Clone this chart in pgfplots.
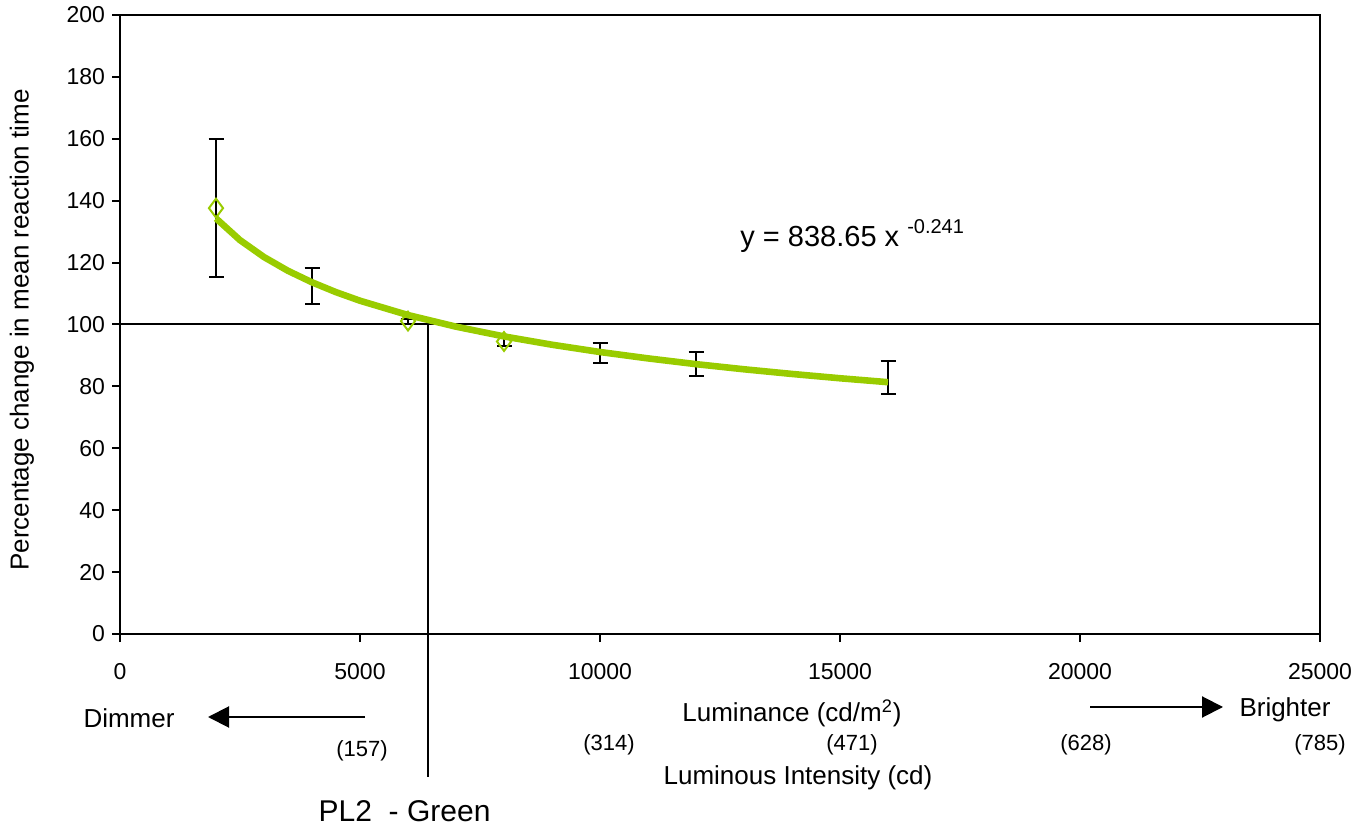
\documentclass[border=0pt]{standalone}
\usepackage{fontspec}
\setmainfont{Liberation Sans}
\usepackage{pgfplots}
\pgfplotsset{compat=1.18}
\usetikzlibrary{arrows.meta}
\definecolor{lime}{RGB}{153,204,0}
\begin{document}
\begin{tikzpicture}
\path[use as bounding box] (-60pt,-97pt) rectangle (619pt,317pt);
\begin{axis}[
  at={(0,0)}, anchor=south west,
  scale only axis, width=600pt, height=309.5pt,
  xmin=0, xmax=25000, ymin=0, ymax=200,
  xtick={0,5000,...,25000}, ytick={0,20,...,200},
  scaled x ticks=false,
  /pgf/number format/1000 sep={},
  /pgf/number format/assume math mode=true,
  tick label style={font=\fontsize{11.5}{13}\selectfont},
  xticklabel style={yshift=-7pt},
  tick align=outside, xtick pos=left, ytick pos=left,
  major tick length=4pt,
  axis line style={line width=1pt},
  every tick/.style={black, line width=1pt},
  clip=false,
]
\addplot[black, line width=1pt] coordinates {(0,100) (25000,100)};
\draw[black, line width=1pt] (axis cs:6420,100) -- (axis cs:6420,-46.2);
% error bars only (markers hidden under the trend line in the original)
\addplot[draw=none, mark=none,
  error bars/.cd, y dir=both, y explicit,
  error bar style={draw=black, line width=1pt},
  error mark options={rotate=90, mark size=3.75pt, draw=black, line width=1pt}]
coordinates {
(4000,112.3) +- (0,5.8)
(10000,90.7) +- (0,3.25)
(12000,87.3) +- (0,3.9)
(16000,82.9) +- (0,5.2)
};
\addplot[only marks, mark=diamond, mark size=4.7pt,
  mark options={draw=lime, fill=none, line width=1pt},
  error bars/.cd, y dir=both, y explicit,
  error bar style={draw=black, line width=1pt},
  error mark options={rotate=90, mark size=3.75pt, draw=black, line width=1pt}]
coordinates {
(2000,137.6) +- (0,22.2)
(6000,101.1) +- (0,0.8)
(8000,94.5) +- (0,1.6)
};
\addplot[lime, line width=3.3pt] coordinates {
(2000,134.28) (2500,127.26) (3000,121.79) (3500,117.34) (4000,113.63)
(4500,110.45) (5000,107.68) (6000,103.05) (7000,99.30) (8000,96.15)
(9000,93.46) (10000,91.11) (11000,89.05) (12000,87.19) (13000,85.53)
(14000,84.02) (15000,82.63) (16000,81.36)
};
\end{axis}
\begin{scope}[every node/.style={inner sep=0pt}]
\node[rotate=90, font=\fontsize{13}{15}\selectfont] at (-49pt,152pt) {Percentage change in mean reaction time};
\node[anchor=base west, font=\fontsize{14.5}{17}\selectfont] at (310pt,193.6pt) {y = 838.65 x \raisebox{0.45em}{\fontsize{10}{12}\selectfont -0.241}};
\node[font=\fontsize{13}{15}\selectfont] at (4.5pt,-42pt) {Dimmer};
\draw[line width=1pt, -{Triangle[length=10.5pt,width=10.5pt]}] (122.5pt,-41.5pt) -- (44pt,-41.5pt);
\node[font=\fontsize{13}{15}\selectfont] at (336pt,-39.5pt) {Luminance (cd/m\textsuperscript{2})};
\node[font=\fontsize{13}{15}\selectfont] at (582.5pt,-38pt) {Brighter};
\draw[line width=1pt, -{Triangle[length=10.5pt,width=10.5pt]}] (485pt,-36.5pt) -- (551.5pt,-36.5pt);
\node[font=\fontsize{11}{13}\selectfont] at (121pt,-58.5pt) {(157)};
\node[font=\fontsize{11}{13}\selectfont] at (244.5pt,-55.5pt) {(314)};
\node[font=\fontsize{11}{13}\selectfont] at (366pt,-55.5pt) {(471)};
\node[font=\fontsize{11}{13}\selectfont] at (483pt,-55.5pt) {(628)};
\node[font=\fontsize{11}{13}\selectfont] at (600pt,-55.5pt) {(785)};
\node[font=\fontsize{13}{15}\selectfont] at (339pt,-72pt) {Luminous Intensity (cd)};
\node[anchor=base, font=\fontsize{15}{17}\selectfont] at (142.3pt,-93.5pt) {PL2\ \ - Green};
\end{scope}
\end{tikzpicture}
\end{document}
